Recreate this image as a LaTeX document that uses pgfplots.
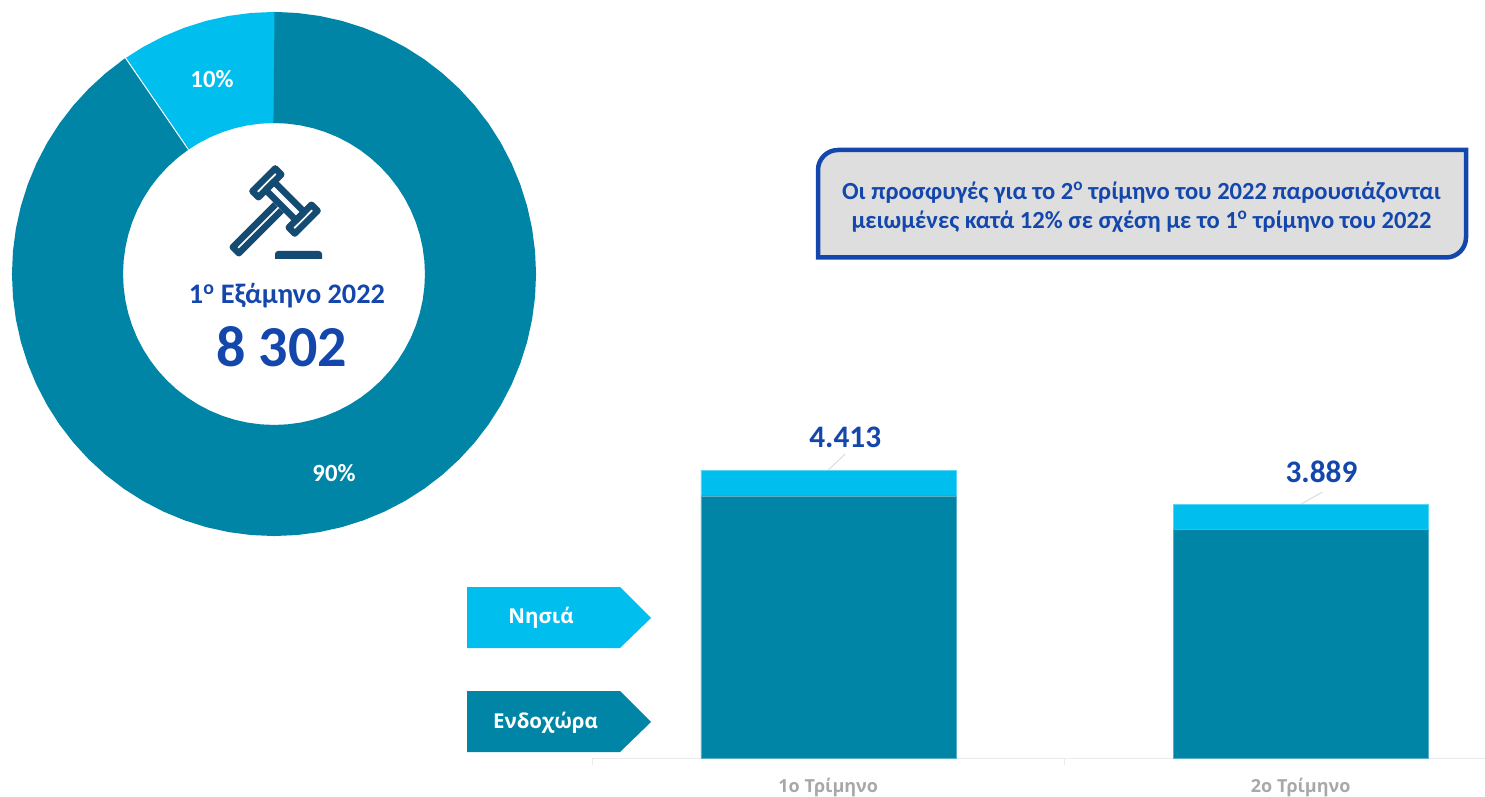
\documentclass[border=0pt]{standalone}
\usepackage{pgfplots}
\pgfplotsset{compat=1.18}
\usepackage{fontspec}
\setmainfont{Carlito}
\newfontfamily\opensans{Open Sans}
\definecolor{teal}{HTML}{0085A6}
\definecolor{sky}{HTML}{00BEEE}
\definecolor{navy}{HTML}{1447AC}
\definecolor{gavel}{HTML}{134B72}
\definecolor{boxgray}{HTML}{DEDEDE}
\definecolor{ticktext}{HTML}{A8A8A8}
\newcommand{\fs}[1]{\fontsize{#1}{#1}\selectfont}
\pgfplotstableread{
x  mainland islands
0  4015     398
1  3509     380
}\bars
\begin{document}
\begin{tikzpicture}[x=1pt,y=1pt]
\path[use as bounding box] (0,0) rectangle (1485,796);

% ---------- donut
\begin{axis}[at={(12pt,260pt)},anchor=south west,scale only axis,width=524pt,height=524pt,
  xmin=-262,xmax=262,ymin=-262,ymax=262,hide axis,clip=false]
\addplot[data cs=polar,no marks,sky,line width=111pt] coordinates {
(88,206.5)(90,206.5)(95,206.5)(100,206.5)(105,206.5)(110,206.5)(115,206.5)(120,206.5)(125,206.5)(126,206.5)};
\addplot[data cs=polar,no marks,teal,line width=111pt] coordinates {
(124.5,206.5)(125,206.5)(130,206.5)(135,206.5)(140,206.5)(145,206.5)(150,206.5)(155,206.5)(160,206.5)(165,206.5)(170,206.5)(175,206.5)
(180,206.5)(185,206.5)(190,206.5)(195,206.5)(200,206.5)(205,206.5)(210,206.5)(215,206.5)(220,206.5)(225,206.5)
(230,206.5)(235,206.5)(240,206.5)(245,206.5)(250,206.5)(255,206.5)(260,206.5)(265,206.5)(270,206.5)(275,206.5)
(280,206.5)(285,206.5)(290,206.5)(295,206.5)(300,206.5)(305,206.5)(310,206.5)(315,206.5)(320,206.5)(325,206.5)
(330,206.5)(335,206.5)(340,206.5)(345,206.5)(350,206.5)(355,206.5)(360,206.5)(365,206.5)(370,206.5)(375,206.5)
(380,206.5)(385,206.5)(390,206.5)(395,206.5)(400,206.5)(405,206.5)(410,206.5)(415,206.5)(420,206.5)(425,206.5)
(430,206.5)(435,206.5)(440,206.5)(445,206.5)(449.5,206.5)(450,206.5)};
\addplot[data cs=polar,no marks,white,line width=1pt] coordinates {(124.5,151)(124.5,262.5)};
\node[white,font=\bfseries\fs{24.7}] at (axis cs:-62,195) {10\%};
\node[white,font=\bfseries\fs{24.7}] at (axis cs:60,-199) {90\%};
\end{axis}

% ---------- gavel
\begin{scope}[shift={(285,595)},rotate=-45,scale=1.07,gavel,line width=6.5pt,line join=round]
\draw[fill=white] (-28,-15) rectangle (-20,15);
\draw[fill=white] (20,-15) rectangle (28,15);
\draw (-20,-5.5) rectangle (20,5.5);
\draw[fill=white] (-4,-8.5) -- (-4,-65) -- (4,-65) -- (4,-8.5);
\end{scope}
\fill[gavel] (275,537) -- (275,542) arc[start angle=180,end angle=90,radius=3] -- (319,545)
  arc[start angle=90,end angle=0,radius=3] -- (322,537) -- cycle;

% ---------- donut centre text
\node[navy,font=\bfseries\fs{28.3}] at (287,500.5) {1\textsuperscript{ο} Εξάμηνο 2022};
\node[navy,font=\bfseries\fs{58}] at (281.5,449) {8 302};

% ---------- callout
\draw[navy,fill=boxgray,line width=4.5pt]
  (818,538.5) -- (818,626) arc[start angle=180,end angle=90,radius=20] -- (1466,646)
  -- (1466,558.5) arc[start angle=0,end angle=-90,radius=20] -- cycle;
\node[navy,font=\bfseries\fs{24.6}] at (1141.5,603) {Οι προσφυγές για το 2\textsuperscript{ο} τρίμηνο του 2022 παρουσιάζονται};
\node[navy,font=\bfseries\fs{24.6}] at (1141.5,574.5) {μειωμένες κατά 12\% σε σχέση με το 1\textsuperscript{ο} τρίμηνο του 2022};

% ---------- legend arrows
\fill[sky] (467,209) -- (620,209) -- (651,178) -- (620,148) -- (467,148) -- cycle;
\fill[teal] (467,105) -- (620,105) -- (651,74) -- (620,44) -- (467,44) -- cycle;
\node[white,font=\opensans\bfseries\fs{20.5}] at (541,178) {Νησιά};
\node[white,font=\opensans\bfseries\fs{20.5}] at (545.5,73) {Ενδοχώρα};

% ---------- bars
\begin{axis}[at={(592pt,38pt)},anchor=south west,scale only axis,width=893pt,height=340pt,
  xmin=-0.5,xmax=1.39,ymin=0,ymax=5210,clip=false,
  ybar stacked,bar width=255pt,
  axis x line=bottom,axis y line=none,
  x axis line style={-,draw=black!8,line width=1pt},
  xtick={0,1},xticklabels={1ο Τρίμηνο,2ο Τρίμηνο},
  minor xtick={-0.5,0.5},
  major tick length=0pt,minor tick length=7pt,
  tick align=outside,
  minor tick style={draw=black!8,line width=1pt},
  xticklabel style={text=ticktext,font=\opensans\bfseries\fs{18},yshift=-29pt,anchor=center},
]
\addplot[fill=teal,draw=teal!65!white,line width=0.5pt] table[x=x,y=mainland] {\bars};
\addplot[fill=sky,draw=sky!65!white,line width=0.5pt] table[x=x,y=islands] {\bars};
\draw[black!15,line width=0.9pt] (axis cs:0.0,4413) -- (axis cs:0.036,4660);
\draw[black!15,line width=0.9pt] (axis cs:1.0,3889) -- (axis cs:1.046,4075);
\node[navy,font=\bfseries\fs{31.3}] at (axis cs:0.036,4909) {4.413};
\node[navy,font=\bfseries\fs{31.3}] at (axis cs:1.044,4380) {3.889};
\end{axis}
\end{tikzpicture}
\end{document}
